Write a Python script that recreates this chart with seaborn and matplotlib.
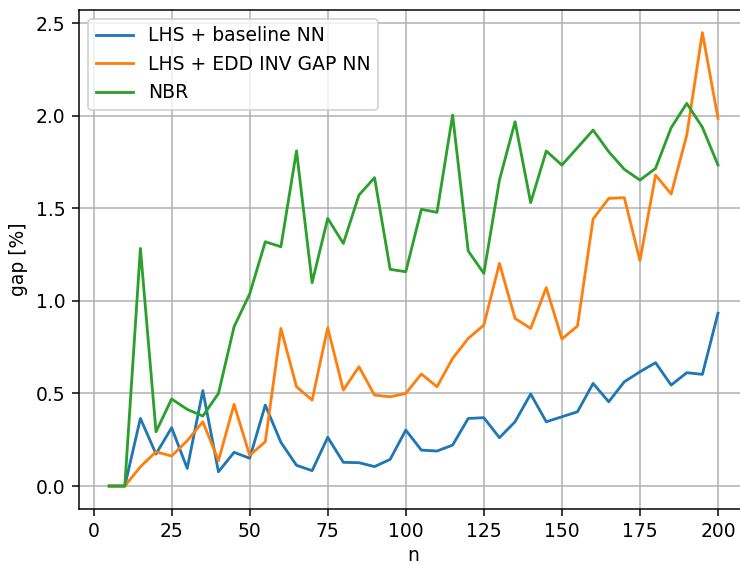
import matplotlib
matplotlib.use("Agg")
import matplotlib.pyplot as plt
import numpy as np
import pandas as pd
import seaborn as sns

n = list(range(5, 205, 5))

baseline_nn = [0.0, 0.0, 0.365, 0.173, 0.315, 0.095, 0.515, 0.077, 0.182, 0.150,
               0.437, 0.236, 0.112, 0.083, 0.263, 0.128, 0.126, 0.105, 0.144, 0.302,
               0.194, 0.189, 0.221, 0.365, 0.369, 0.261, 0.347, 0.497, 0.347, 0.374,
               0.401, 0.554, 0.455, 0.563, 0.617, 0.666, 0.545, 0.612, 0.603, 0.933]

edd_inv_gap_nn = [0.0, 0.0, 0.104, 0.185, 0.162, 0.245, 0.347, 0.137, 0.441, 0.166,
                  0.239, 0.851, 0.536, 0.464, 0.855, 0.518, 0.644, 0.491, 0.482, 0.500,
                  0.605, 0.536, 0.689, 0.797, 0.869, 1.202, 0.905, 0.851, 1.071, 0.794,
                  0.864, 1.442, 1.553, 1.557, 1.217, 1.679, 1.577, 1.895, 2.448, 1.985]

nbr = [0.0, 0.0, 1.283, 0.293, 0.470, 0.414, 0.378, 0.500, 0.860, 1.037,
       1.319, 1.292, 1.810, 1.098, 1.445, 1.310, 1.571, 1.665, 1.170, 1.157,
       1.494, 1.478, 2.003, 1.269, 1.148, 1.652, 1.967, 1.530, 1.809, 1.733,
       1.827, 1.922, 1.805, 1.710, 1.652, 1.715, 1.935, 2.066, 1.937, 1.733]

labels = ["LHS + baseline NN", "LHS + EDD INV GAP NN", "NBR"]
yticks = [0.0, 0.5, 1.0, 1.5, 2.0, 2.5]
xticks = [0, 25, 50, 75, 100, 125, 150, 175, 200]

df = pd.concat([
    pd.DataFrame({"n": n, "gap": baseline_nn, "method": labels[0]}),
    pd.DataFrame({"n": n, "gap": edd_inv_gap_nn, "method": labels[1]}),
    pd.DataFrame({"n": n, "gap": nbr, "method": labels[2]}),
], ignore_index=True)

plt.rcParams["font.family"] = ["DejaVu Sans"]

DPI = 135
fig = plt.figure(figsize=(740 / DPI, 564 / DPI), dpi=DPI)
ax = fig.add_axes([0.1064, 0.098, 0.905, 0.885])

palette = ["#1f77b4", "#ff7f0e", "#2ca02c"]
sns.lineplot(data=df, x="n", y="gap", hue="method", hue_order=labels,
             palette=palette, linewidth=1.5, ax=ax)

ax.grid(True)
ax.set_axisbelow(True)
ax.set_xlabel("n", labelpad=2.5)
ax.set_ylabel("gap [%]")
ax.set_xticks(xticks)
ax.set_yticks(yticks)
ax.set_yticklabels([f"{v:.1f}" for v in yticks])
ax.set_xlim(-4.75, 209.75)
ax.set_ylim(-0.1225, 2.5725)

leg = ax.legend(loc="upper left", frameon=True)
leg.set_title(None)

fig.savefig("out.png", dpi=DPI)
